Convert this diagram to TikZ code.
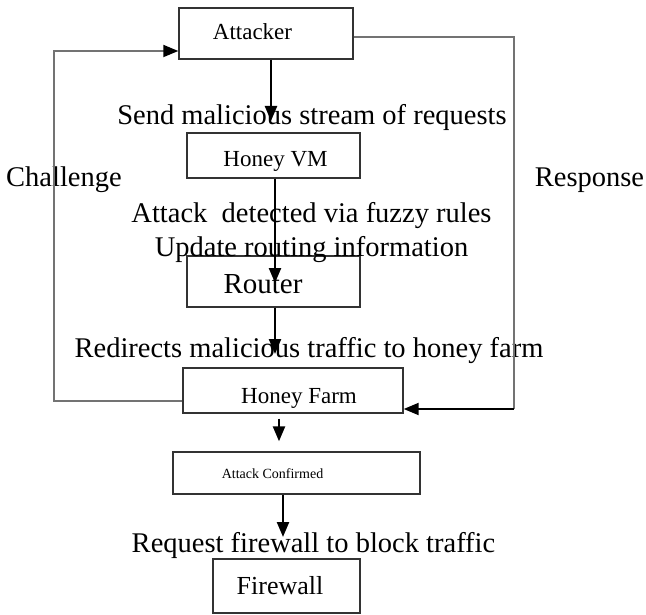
\documentclass[tikz,border=0pt]{standalone}
\usepackage{fontspec}
\setmainfont{Liberation Serif}
\usetikzlibrary{arrows.meta}
\newcommand{\fsz}[1]{\fontsize{#1}{#1}\selectfont}

\begin{document}
\begin{tikzpicture}[x=1pt,y=-1pt,
	blk/.style={rectangle,draw=black!80,line width=1.4pt},
	txt/.style={anchor=base,inner sep=0pt},
	lbl/.style={anchor=base,inner sep=0pt,font=\fsz{28.5}},
	arr/.style={draw,line width=2.4pt,-{Triangle[width=12pt,length=15pt]}},
	fb/.style={draw=black!55,line width=1.8pt}]
		\useasboundingbox (0,0) rectangle (646,615);
		\node (atk) at (266,33.5) [blk,minimum width=174pt,minimum height=51pt] {};
		\node (atkt) at (252.5,40) [txt,font=\fsz{23}] {Attacker};
		\node (hvm) at (273.5,155.5) [blk,minimum width=173pt,minimum height=45pt] {};
		\node (hvmt) at (275.5,167) [txt,font=\fsz{23}] {Honey VM};
		\node (rtr) at (273.5,281.5) [blk,minimum width=173pt,minimum height=51pt] {};
		\node (rtrt) at (263,293) [txt,font=\fsz{29}] {Router};
		\node (hf) at (293,390.5) [blk,minimum width=220pt,minimum height=45pt] {};
		\node (hft) at (299,403) [txt,font=\fsz{23}] {Honey Farm};
		\node (ac) at (296.5,473) [blk,minimum width=247pt,minimum height=42pt] {};
		\node (act) at (272.5,478) [txt,font=\fsz{14}] {Attack Confirmed};
		\node (fw) at (286.5,586) [blk,minimum width=147pt,minimum height=54pt] {};
		\node (fwt) at (280,594) [txt,font=\fsz{26}] {Firewall};
		% step labels
		\node (snd) at (312,125) [lbl] {Send malicious stream of requests};
		\node (det) at (311.5,223) [lbl] {Attack\ \ detected via fuzzy rules};
		\node (upd) at (311.5,256) [lbl] {Update routing information};
		\node (rdr) at (309,357) [lbl] {Redirects malicious traffic to honey farm};
		\node (req) at (313.5,552) [lbl] {Request firewall to block traffic};
		\node (chl) at (64,187) [lbl] {Challenge};
		\node (rsp) at (589.5,187) [lbl] {Response};
		% main flow
		\coordinate (a1) at (271,121);
		\path [arr] (atk.south -| a1) -- (a1);
		\coordinate (a2) at (275,283);
		\path [arr] (hvm.south -| a2) -- (a2);
		\coordinate (a3) at (275,354);
		\path [arr] (rtr.south -| a3) -- (a3);
		\path [arr,shorten <=5pt,shorten >=10pt] ([xshift=-14pt]hf.south) -- ([xshift=-14pt]hf.south |- ac.north);
		\coordinate (a5) at (283,537);
		\path [arr] (ac.south -| a5) -- (a5);
		% feedback loops
		\coordinate (atkin) at ([yshift=-17.5pt]atk.west);
		\path [fb,-{Triangle[width=12pt,length=15pt,color=black]}] ([yshift=-10.5pt]hf.west) -- ++(-128,0) coordinate (c1) -- (c1|-atkin) -- (atkin);
		\coordinate (atkout) at ([yshift=-3.5pt]atk.east);
		\coordinate (hfin) at ([yshift=-18.5pt]hf.east);
		\path [fb] (atkout) -- ++(160,0) coordinate (c2) -- (c2|-hfin);
		\path [arr,line width=2pt] (c2|-hfin) -- (hfin);
	\end{tikzpicture}
\end{document}
